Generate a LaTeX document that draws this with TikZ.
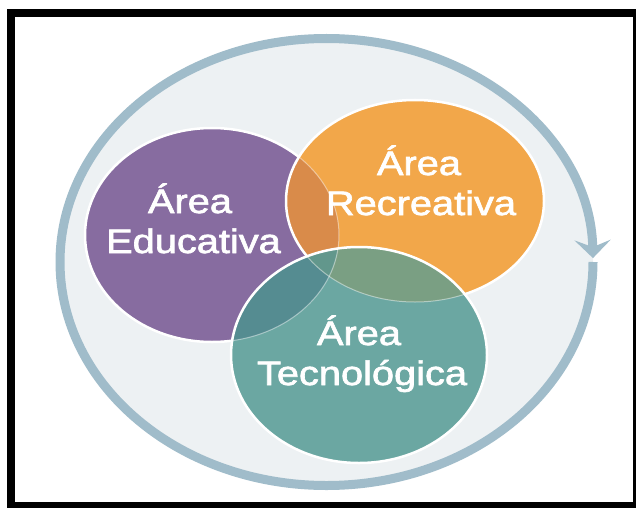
\documentclass[tikz,border=0pt]{standalone}
\usepackage{fontspec}
\newfontfamily\lblfont[FakeStretch=1.17, FakeBold=2]{Liberation Sans}
\usetikzlibrary{arrows.meta}
\definecolor{ringc}{HTML}{A0BCCA}
\definecolor{bgc}{HTML}{EDF1F3}
\definecolor{purp}{HTML}{876CA0}
\definecolor{oran}{HTML}{F2A74A}
\definecolor{teal}{HTML}{6BA7A2}
\definecolor{po}{HTML}{D98B4A}
\definecolor{to}{HTML}{7A9F83}
\definecolor{tp}{HTML}{558C91}
\definecolor{tpo}{HTML}{62978C}
\begin{document}
\begin{tikzpicture}[x=1pt,y=-1pt,
  lbl/.style={text=white, font=\lblfont\fontsize{34}{40}\selectfont, inner sep=0pt, anchor=base},
  rim/.style={draw=white, line width=2.5pt},
  faint/.style={draw=white, draw opacity=0.45, line width=1pt}]
\useasboundingbox (0,0) rectangle (636,508);
\fill[white] (0,0) rectangle (636,508);
\fill[black] (7,9) rectangle (636,508);
\fill[white] (15,17) rectangle (633,502);
% outer cycle
\coordinate (c) at (326.5,261.5);
\fill[bgc] (c) ellipse [x radius=266.5, y radius=223.5];
\coordinate (ringstart) at (593,262);
\draw[ringc, line width=9pt, -{Stealth[length=18pt, width=36pt, inset=7pt]}]
  (ringstart) arc[start angle=0, end angle=359, x radius=266.5, y radius=223.5];
% ellipse centres
\coordinate (pc) at (212,235);
\coordinate (oc) at (415,201);
\coordinate (tc) at (359,355);
% purple
\fill[purp] (pc) ellipse [x radius=127, y radius=107];
\draw[rim] (pc) ellipse [x radius=127, y radius=107];
% orange
\fill[oran] (oc) ellipse [x radius=129, y radius=101];
\begin{scope}
  \clip (oc) ellipse [x radius=129, y radius=101];
  \fill[po] (pc) ellipse [x radius=127, y radius=107];
  \draw[faint] (pc) ellipse [x radius=127, y radius=107];
\end{scope}
\draw[rim] (oc) ellipse [x radius=129, y radius=101];
% teal
\fill[teal] (tc) ellipse [x radius=128, y radius=108];
\begin{scope}
  \clip (tc) ellipse [x radius=128, y radius=108];
  \fill[tp] (pc) ellipse [x radius=127, y radius=107];
  \fill[to] (oc) ellipse [x radius=129, y radius=101];
  \begin{scope}
    \clip (pc) ellipse [x radius=127, y radius=107];
    \fill[tpo] (oc) ellipse [x radius=129, y radius=101];
  \end{scope}
  \draw[faint] (pc) ellipse [x radius=127, y radius=107];
  \draw[faint] (oc) ellipse [x radius=129, y radius=101];
\end{scope}
\draw[rim] (tc) ellipse [x radius=128, y radius=108];
% labels
\node[lbl] (edu1) at (190,213) {Área};
\node[lbl] (edu2) at (193.5,253) {Educativa};
\node[lbl] (rec1) at (419,175) {Área};
\node[lbl] (rec2) at (421,215) {Recreativa};
\node[lbl] (tec1) at (359,345) {Área};
\node[lbl] (tec2) at (362,385) {Tecnológica};
\end{tikzpicture}
\end{document}
